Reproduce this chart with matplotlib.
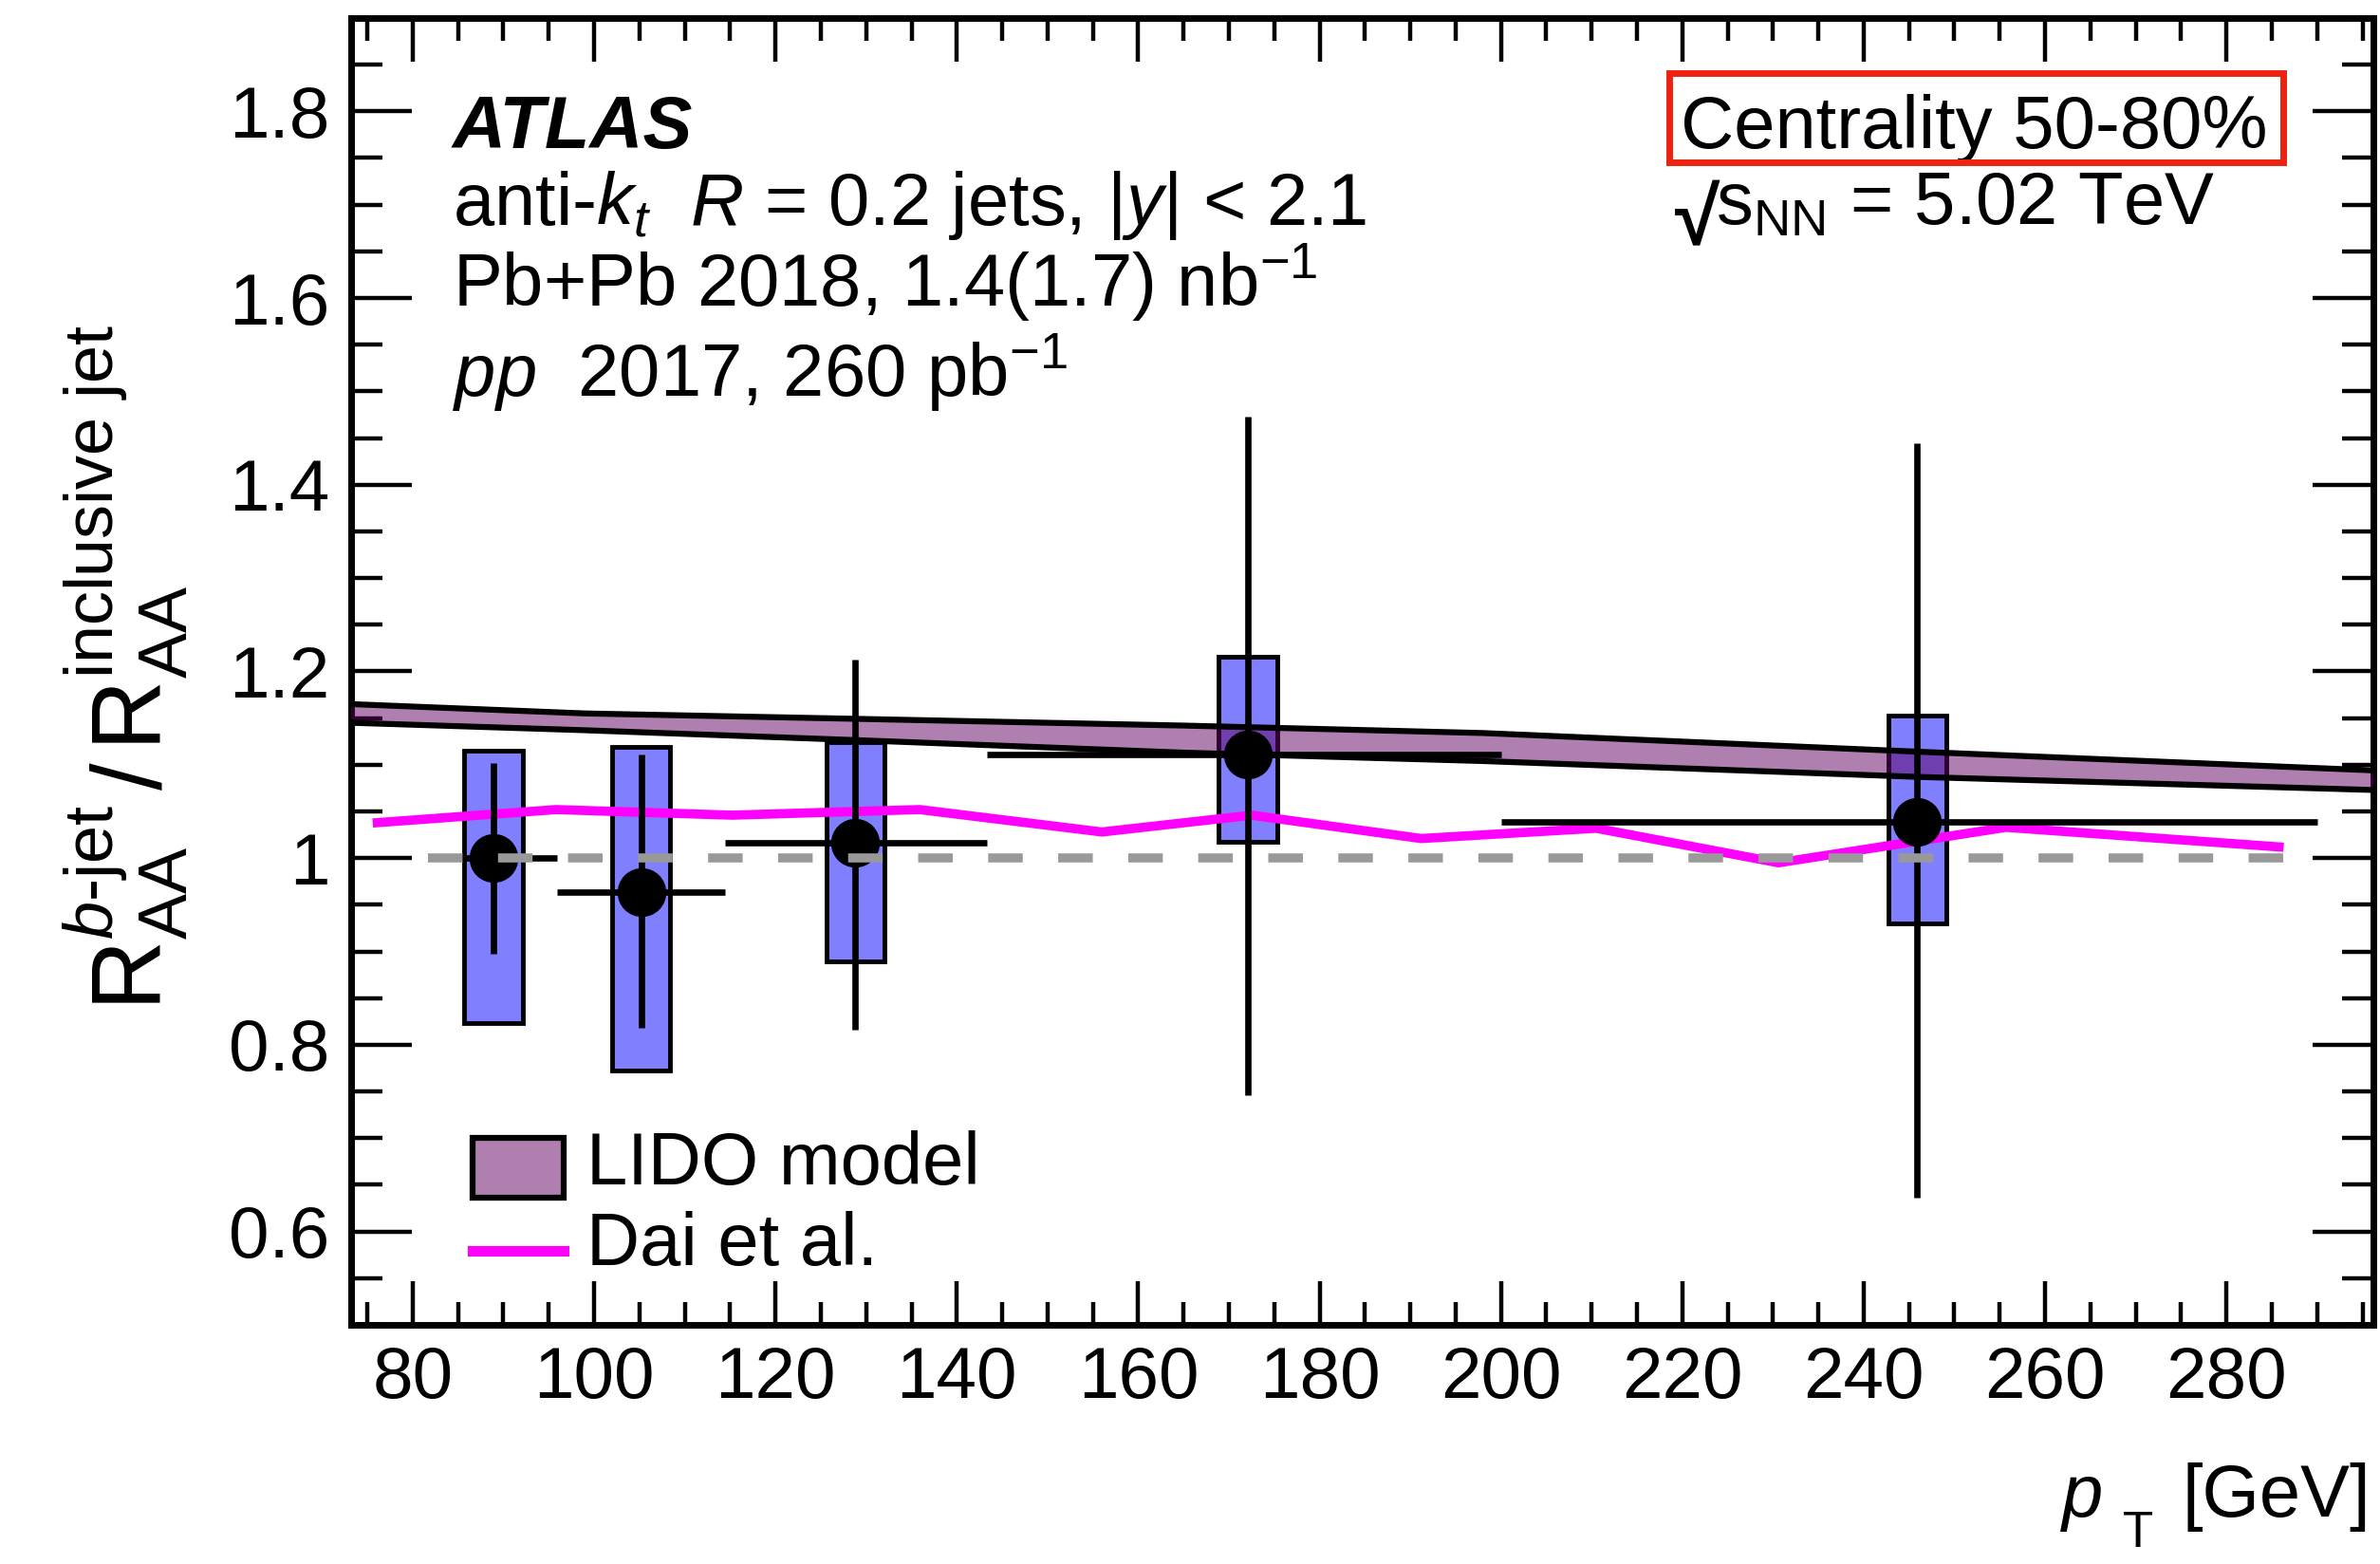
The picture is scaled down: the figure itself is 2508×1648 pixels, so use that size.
import matplotlib
matplotlib.use("Agg")
import matplotlib.pyplot as plt
from matplotlib.patches import Rectangle
from matplotlib.lines import Line2D
from matplotlib.ticker import MultipleLocator, FixedLocator, FixedFormatter

plt.rcParams['font.family'] = ['Liberation Sans', 'DejaVu Sans']
plt.rcParams['mathtext.fontset'] = 'custom'
plt.rcParams['mathtext.rm'] = 'Liberation Sans'
plt.rcParams['mathtext.it'] = 'Liberation Sans:italic'
plt.rcParams['mathtext.bf'] = 'Liberation Sans:bold'

# ---------------- data ----------------
pt_center = [88.9, 105.2, 128.8, 172.1, 245.9]
bin_low = [81.7, 95.9, 114.4, 143.3, 200.0]
bin_high = [95.9, 114.4, 143.3, 200.0, 290.0]
ratio = [1.000, 0.964, 1.016, 1.111, 1.039]
stat_hi = [1.102, 1.111, 1.213, 1.473, 1.444]
stat_lo = [0.898, 0.818, 0.816, 0.746, 0.636]
sys_hi = [1.115, 1.119, 1.124, 1.216, 1.153]
sys_lo = [0.823, 0.772, 0.889, 1.018, 0.930]
sys_halfwidth = 3.2

lido_pt = [73.2, 99.0, 130.0, 165.0, 198.0, 246.0, 296.2]
lido_hi = [1.165, 1.155, 1.149, 1.142, 1.134, 1.114, 1.094]
lido_lo = [1.145, 1.137, 1.126, 1.113, 1.104, 1.087, 1.073]

dai_pt = [76.1, 95.8, 115.2, 135.9, 156.0, 172.5, 191.2, 210.5, 230.6, 255.7, 285.8]
dai_val = [1.038, 1.052, 1.046, 1.052, 1.028, 1.046, 1.021, 1.032, 0.995, 1.033, 1.012]

unity_range = [81.7, 290.0]

xticks = [80, 100, 120, 140, 160, 180, 200, 220, 240, 260, 280]
yticks = [0.6, 0.8, 1.0, 1.2, 1.4, 1.6, 1.8]
ytick_labels = ['0.6', '0.8', '1', '1.2', '1.4', '1.6', '1.8']

# ---------------- figure ----------------
fig = plt.figure(figsize=(25.08, 16.48), dpi=100)
ax = fig.add_axes([0.1475, 0.1529, 0.8497, 0.8356])
ax.set_xlim(73.2, 296.2)
ax.set_ylim(0.5, 1.9)

box_color = '#8080ff'
band_color = '#610061'
magenta = '#ff00ff'

# systematic boxes
for x, lo, hi in zip(pt_center, sys_lo, sys_hi):
    ax.add_patch(Rectangle((x - sys_halfwidth, lo), 2 * sys_halfwidth, hi - lo,
                           facecolor=box_color, edgecolor='black', lw=3.5, zorder=2))

# LIDO band
ax.fill_between(lido_pt, lido_lo, lido_hi, facecolor=band_color, alpha=0.5,
                edgecolor='none', zorder=3)
ax.plot(lido_pt, lido_hi, color='black', lw=4.5, zorder=3.5)
ax.plot(lido_pt, lido_lo, color='black', lw=4.5, zorder=3.5)

# Dai et al.
ax.plot(dai_pt, dai_val, color=magenta, lw=7, zorder=4, solid_joinstyle='miter')

# data points
xerr = [[c - l for c, l in zip(pt_center, bin_low)],
        [h - c for c, h in zip(pt_center, bin_high)]]
yerr = [[r - l for r, l in zip(ratio, stat_lo)],
        [h - r for r, h in zip(ratio, stat_hi)]]
ax.errorbar(pt_center, ratio, xerr=xerr, yerr=yerr, fmt='o', color='black',
            ms=36, elinewidth=4.8, capsize=0, zorder=5)

# unity line
ax.plot(unity_range, [1.0, 1.0], color='#999999', lw=6.9, dashes=(3.8, 3.9),
        dash_capstyle='butt', zorder=6)

# ---------------- axes style ----------------
for s in ax.spines.values():
    s.set_linewidth(5)
ax.xaxis.set_major_locator(FixedLocator(xticks))
ax.xaxis.set_minor_locator(MultipleLocator(5))
ax.yaxis.set_major_locator(FixedLocator(yticks))
ax.yaxis.set_major_formatter(FixedFormatter(ytick_labels))
ax.yaxis.set_minor_locator(MultipleLocator(0.05))
ax.tick_params(axis='both', which='both', direction='in', top=True, right=True,
               width=3.2, labelsize=55)
ax.tick_params(axis='x', which='major', length=33, pad=16)
ax.tick_params(axis='x', which='minor', length=17)
ax.tick_params(axis='y', which='major', length=46, pad=16)
ax.tick_params(axis='y', which='minor', length=24)

# ---------------- labels ----------------
fig.text(0.053, 0.573,
         r'$\mathrm{R}_{\mathrm{AA}}^{b\mathrm{\text{-}jet}}\,/\,\mathrm{R}_{\mathrm{AA}}^{\mathrm{inclusive\ jet}}$',
         rotation=90, ha='center', va='center', fontsize=74)

fig.text(0.996, 0.0303, '[GeV]', ha='right', va='baseline', fontsize=56)
fig.text(0.8664, 0.0303, 'p', ha='left', va='baseline', fontsize=56, style='italic')
fig.text(0.892, 0.004, 'T', ha='left', va='bottom', fontsize=38)

# ---------------- annotations ----------------
tx = 0.0501
ax.text(tx, 0.9007, 'ATLAS', transform=ax.transAxes, fontsize=56,
        fontweight='bold', style='italic', va='baseline')
ax.text(tx, 0.842, r'anti-$k_{t}$  $R$ = 0.2 jets, |$y$| < 2.1', transform=ax.transAxes,
        fontsize=56, va='baseline')
ax.text(tx, 0.779, r'Pb+Pb 2018, 1.4(1.7) nb$^{-1}$', transform=ax.transAxes,
        fontsize=56, va='baseline')
ax.text(tx, 0.710, r'$pp$  2017, 260 pb$^{-1}$', transform=ax.transAxes,
        fontsize=56, va='baseline')

ax.text(0.6575, 0.9007, 'Centrality 50-80%', transform=ax.transAxes,
        fontsize=56, va='baseline')
ax.add_patch(Rectangle((0.6517, 0.8893), 0.3035, 0.0687, transform=ax.transAxes,
                       facecolor='none', edgecolor='#ee2211', lw=5, zorder=7))
ax.text(0.6545, 0.826, '\u221a', transform=ax.transAxes, fontsize=62,
        fontweight='bold', va='baseline')
ax.text(0.6748, 0.842, r'$\mathrm{s}_{\mathrm{NN}}$ = 5.02 TeV',
        transform=ax.transAxes, fontsize=56, va='baseline')

# ---------------- legend ----------------
ax.add_patch(Rectangle((0.0601, 0.0975), 0.045, 0.0453, transform=ax.transAxes,
                       facecolor=band_color, alpha=0.5, edgecolor='none', zorder=7))
ax.add_patch(Rectangle((0.0601, 0.0975), 0.045, 0.0453, transform=ax.transAxes,
                       facecolor='none', edgecolor='black', lw=4.5, zorder=7))
ax.add_line(Line2D([0.0601, 0.1051], [0.0568, 0.0568], transform=ax.transAxes,
                   color=magenta, lw=8, zorder=7))
ax.text(0.1166, 0.1075, 'LIDO model', transform=ax.transAxes, fontsize=56, va='baseline')
ax.text(0.1166, 0.0459, 'Dai et al.', transform=ax.transAxes, fontsize=56, va='baseline')

fig.savefig('out.png', dpi=100)
